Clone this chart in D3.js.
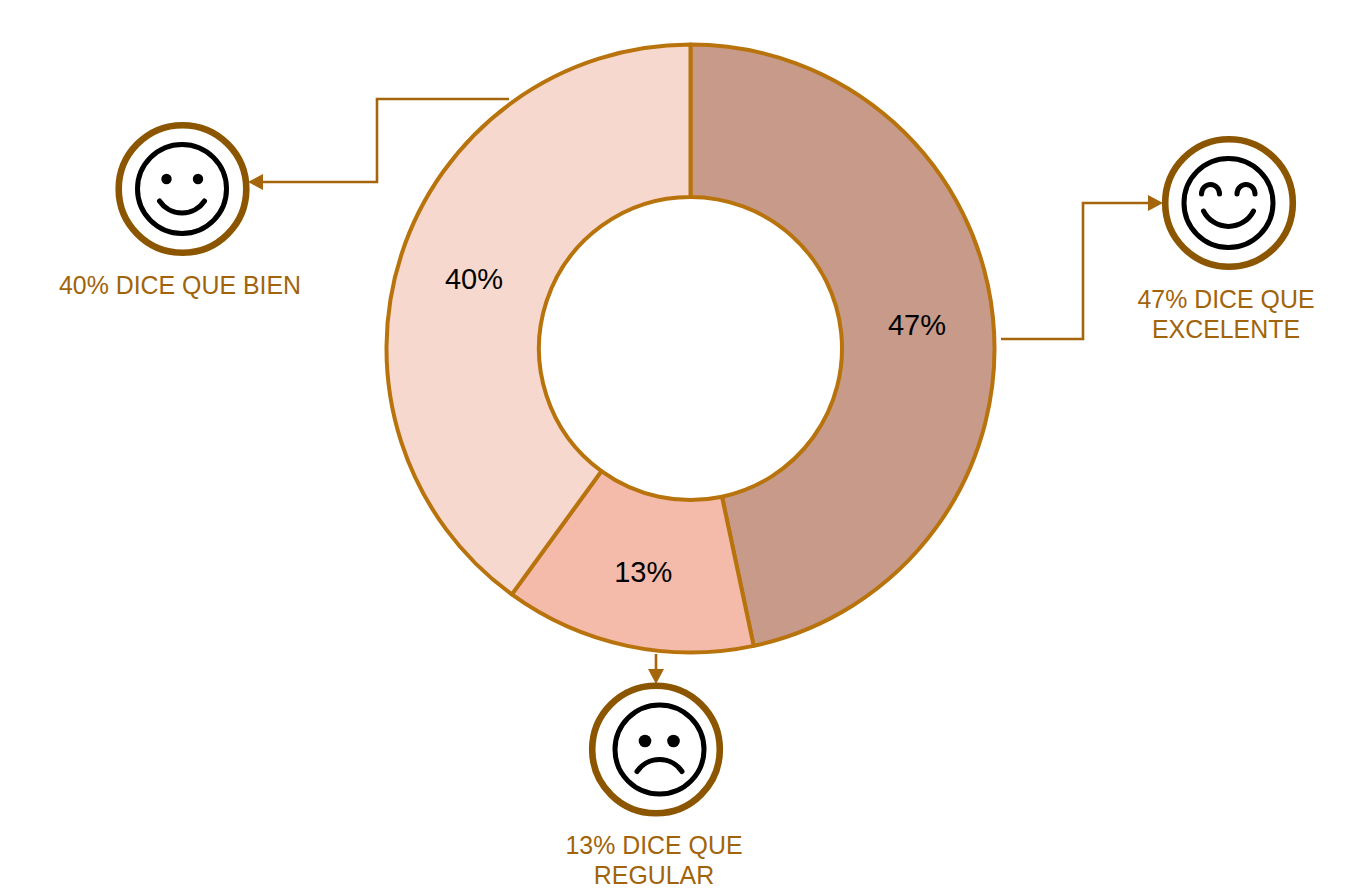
<!DOCTYPE html>
<html><head><meta charset="utf-8">
<script src="https://cdn.jsdelivr.net/npm/d3@7/dist/d3.min.js"></script>
<style>html,body{margin:0;background:#fff}svg{display:block}text{font-family:"Liberation Sans",Arial,sans-serif}</style>
</head><body><svg id="c" width="1370" height="891"></svg>
<script>
const categories = ["Excelente","Regular","Bien"];
const values = [14,4,12];
const percentLabels = ["47%","13%","40%"];
const sliceColors = ["#c89a8a","#f4baaa","#f7d8ce"];
const calloutLines = [["47% DICE QUE","EXCELENTE"],["13% DICE QUE","REGULAR"],["40% DICE QUE BIEN"]];

const ACCENT="#b8730c", RING="#8c5600", TXT="#a1640b", LINE="#a5650a";
const svg=d3.select("#c");
const cx=690.5, cy=348.5, R=304, r=151.5;
const pie=d3.pie().sort(null).value(d=>d)(values);
const arc=d3.arc().innerRadius(r).outerRadius(R);
const g=svg.append("g").attr("transform",`translate(${cx},${cy})`);
g.selectAll("path").data(pie).join("path").attr("d",arc)
 .attr("fill",(d,i)=>sliceColors[i]).attr("stroke",ACCENT).attr("stroke-width",4).attr("stroke-linejoin","round");
g.selectAll("text").data(pie).join("text")
 .attr("transform",d=>`translate(${arc.centroid(d)})`).attr("text-anchor","middle").attr("dy","0.36em")
 .attr("font-size",29).attr("fill","#000").text((d,i)=>percentLabels[i]);

const callouts=[
 {ring:[1229,203],face:[1228.5,203],path:[[1001,339],[1083,339],[1083,203],[1148,203]],arrow:[1163,203,0],text:[1226,308],kind:"big"},
 {ring:[656,749.5],face:[659.5,749.5],path:[[656,654],[656,669]],arrow:[656,684,90],text:[654,854],kind:"sad"},
 {ring:[182.5,189],face:[182,189],path:[[509,99],[377,99],[377,182],[263,182]],arrow:[248,182,180],text:[180,294],kind:"smile"}
];
const line=d3.line();
callouts.forEach((c,i)=>{
 svg.append("path").attr("d",line(c.path)).attr("fill","none").attr("stroke",LINE).attr("stroke-width",2.6);
 svg.append("path").attr("d","M0,0L-15,-8L-15,8Z").attr("fill",LINE)
   .attr("transform",`translate(${c.arrow[0]},${c.arrow[1]}) rotate(${c.arrow[2]})`);
 svg.append("circle").attr("cx",c.ring[0]).attr("cy",c.ring[1]).attr("r",63.8).attr("fill","#fff").attr("stroke",RING).attr("stroke-width",6.6);
 const f=svg.append("g").attr("transform",`translate(${c.face})`).attr("fill","none").attr("stroke","#000").attr("stroke-width",5).attr("stroke-linecap","round");
 f.append("circle").attr("r",44.5);
 if(c.kind==="smile"){
  [-15.5,16].forEach(x=>f.append("circle").attr("cx",x).attr("cy",-10).attr("r",5.2).attr("fill","#000").attr("stroke","none"));
  f.append("path").attr("d","M-22.5,12A27,27 0 0 0 22.5,12");
 } else if(c.kind==="sad"){
  [-14.5,14].forEach(x=>f.append("circle").attr("cx",x).attr("cy",-8.5).attr("r",6.3).attr("fill","#000").attr("stroke","none"));
  f.append("path").attr("d","M-22.5,22A27,27 0 0 1 22.5,22");
 } else {
  [-18,17.5].forEach(x=>f.append("path").attr("d",`M${x-9},-9A9,9.5 0 0 1 ${x+9},-9`));
  f.append("path").attr("d","M-25,8A28,28 0 0 0 25,8");
 }
 const t=svg.append("text").attr("text-anchor","middle").attr("font-size",24.9).attr("fill",TXT);
 calloutLines[i].forEach((s,j)=>t.append("tspan").attr("x",c.text[0]).attr("y",c.text[1]+j*30).text(s));
});
</script></body></html>
